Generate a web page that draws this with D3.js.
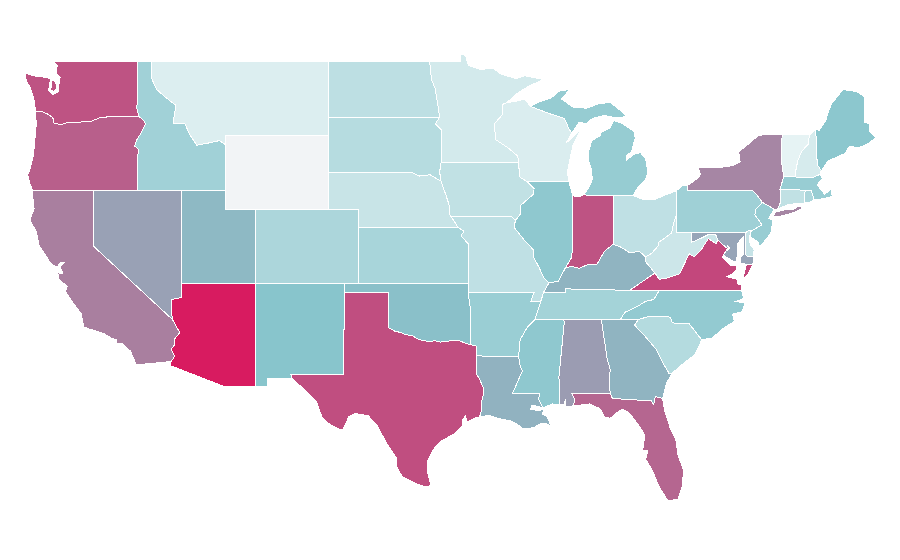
<!DOCTYPE html>
<html>
<head>
<meta charset="utf-8">
<script src="https://d3js.org/d3.v7.min.js"></script>
<style>
  body { margin: 0; background: #fff; }
  path.state { stroke: #fff; stroke-width: 1; shape-rendering: crispEdges; }
</style>
</head>
<body>
<div id="map"></div>
<script>
var svgWidth = 900;
var svgHeight = 560;

var stateNames = ["WA","OR","CA","NV","ID","MT","WY","UT","AZ","CO","NM","ND","SD","NE","KS","OK","TX","MN","IA","MO","AR","LA","WI","IL","IN","MI","OH","KY","TN","MS","AL","GA","FL","SC","NC","VA","WV","PA","NY","NJ","DE","MD","DC","CT","RI","MA","VT","NH","ME"];
var stateValues = [77,72,59,45,23,6.5,0,35,100,20,30,15,17,12,21,32,79,9,14,14.5,25,38,7,28,77,26,14.5,37,22,28,47,37,69,17.5,27,82,11,23.5,56,25.5,12.5,43,40,14,20,25.5,3.5,8,29];

var colorStops = [0, 3, 30, 100];
var colorRange = ["#f2f4f6", "#e8f4f5", "#88c5cc", "#d81b60"];

// state outlines as lon/lat rings
var outlines = {
  WA: [[[-124,46.27],[-124.07,46.7],[-124.1,46.9],[-124.2,47.2],[-124.4,47.6],[-124.65,47.95],[-124.73,48.38],[-124.2,48.2],[-123.6,48.15],[-123.12,48.08],[-122.95,48.05],[-123.1,47.4],[-122.8,47.2],[-122.45,47.3],[-122.35,47.9],[-122.3,48.1],[-122.55,48.35],[-122.5,48.75],[-122.76,49],[-117.03,49],[-117.04,46.42],[-116.92,46],[-118.98,46],[-119.3,45.93],[-119.6,45.92],[-120.2,45.72],[-120.65,45.74],[-121.2,45.65],[-121.7,45.7],[-122.25,45.55],[-122.75,45.65],[-122.8,45.95],[-123.2,46.15],[-123.5,46.25]],
       [[-122.85,47.95],[-122.95,47.45],[-122.75,47.35],[-122.55,47.5],[-122.6,47.9]]],
  OR: [[[-124,46.27],[-123.95,45.6],[-124.05,44.7],[-124.15,43.9],[-124.4,43.1],[-124.55,42.84],[-124.4,42.4],[-124.2,42],[-120,42],[-117.03,42],[-117.03,43.8],[-116.9,44.2],[-117.2,44.4],[-117.05,44.75],[-116.85,45],[-116.45,45.6],[-116.6,45.8],[-116.92,46],[-118.98,46],[-119.3,45.93],[-119.6,45.92],[-120.2,45.72],[-120.65,45.74],[-121.2,45.65],[-121.7,45.7],[-122.25,45.55],[-122.75,45.65],[-122.8,45.95],[-123.2,46.15],[-123.5,46.25]]],
  CA: [[[-124.2,42],[-124.2,41.7],[-124.1,41],[-124.4,40.4],[-123.95,39.8],[-123.75,39],[-123.3,38.5],[-122.95,38.05],[-122.5,37.85],[-122.3,38.1],[-122,38.1],[-122.3,37.85],[-122.1,37.5],[-122.45,37.55],[-122.4,37.2],[-122,36.95],[-121.8,36.8],[-121.95,36.55],[-121.4,35.9],[-120.85,35.35],[-120.65,34.6],[-120.2,34.47],[-119.3,34.25],[-118.8,34],[-118.4,33.9],[-118.4,33.72],[-118.1,33.72],[-117.5,33.3],[-117.25,32.85],[-117.12,32.53],[-114.72,32.72],[-114.5,33],[-114.72,33.4],[-114.53,33.6],[-114.5,33.95],[-114.14,34.3],[-114.43,34.7],[-114.63,35],[-120,39],[-120,42]]],
  NV: [[[-120,42],[-114.05,42],[-114.05,36.2],[-114.7,36.1],[-114.72,35.5],[-114.63,35],[-120,39]]],
  ID: [[[-117.03,49],[-116.05,49],[-116.05,48.05],[-115.7,47.45],[-115.05,47],[-114.4,46.6],[-114.6,45.65],[-113.8,45.6],[-113.45,45],[-113,44.45],[-112.3,44.55],[-111.45,44.7],[-111.05,44.47],[-111.05,42],[-114.05,42],[-117.03,42],[-117.03,43.8],[-116.9,44.2],[-117.2,44.4],[-117.05,44.75],[-116.85,45],[-116.45,45.6],[-116.6,45.8],[-116.92,46],[-117.04,46.42]]],
  MT: [[[-116.05,49],[-104.05,49],[-104.05,45],[-111.05,45],[-111.05,44.47],[-111.45,44.7],[-112.3,44.55],[-113,44.45],[-113.45,45],[-113.8,45.6],[-114.6,45.65],[-114.4,46.6],[-115.05,47],[-115.7,47.45],[-116.05,48.05]]],
  WY: [[[-111.05,45],[-104.05,45],[-104.05,41],[-111.05,41]]],
  UT: [[[-114.05,42],[-111.05,42],[-111.05,41],[-109.05,41],[-109.05,37],[-114.05,37]]],
  AZ: [[[-114.05,37],[-109.05,37],[-109.05,31.33],[-111.07,31.33],[-114.8,32.5],[-114.72,32.72],[-114.5,33],[-114.72,33.4],[-114.53,33.6],[-114.5,33.95],[-114.14,34.3],[-114.43,34.7],[-114.63,35],[-114.72,35.5],[-114.7,36.1],[-114.05,36.2]]],
  CO: [[[-109.05,41],[-102.05,41],[-102.05,37],[-109.05,37]]],
  NM: [[[-109.05,37],[-103,37],[-103,36.5],[-103.05,32],[-106.62,32],[-106.53,31.78],[-108.2,31.78],[-108.2,31.33],[-109.05,31.33]]],
  ND: [[[-104.05,49],[-97.23,49],[-97.1,48],[-96.85,47.5],[-96.6,46.3],[-96.56,45.94],[-104.05,45.94]]],
  SD: [[[-104.05,45.94],[-96.56,45.94],[-96.85,45.6],[-96.45,45.3],[-96.45,43.5],[-96.55,43],[-96.45,42.5],[-97.2,42.85],[-97.9,42.78],[-98.5,43],[-104.05,43]]],
  NE: [[[-104.05,43],[-98.5,43],[-97.9,42.78],[-97.2,42.85],[-96.45,42.5],[-96.1,41.7],[-95.9,41.2],[-95.85,40.7],[-95.3,40],[-102.05,40],[-102.05,41],[-104.05,41]]],
  KS: [[[-102.05,40],[-95.3,40],[-94.9,39.8],[-95.1,39.55],[-94.6,39.11],[-94.62,37],[-102.05,37]]],
  OK: [[[-103,37],[-94.62,37],[-94.62,36.5],[-94.43,35.4],[-94.48,33.64],[-94.9,33.75],[-95.3,33.88],[-95.8,33.85],[-96.5,33.78],[-96.9,33.85],[-97.2,33.8],[-97.9,33.9],[-98.4,34.12],[-98.9,34.2],[-99.2,34.3],[-99.6,34.38],[-100,34.56],[-100,36.5],[-103,36.5]]],
  TX: [[[-103,36.5],[-100,36.5],[-100,34.56],[-99.6,34.38],[-99.2,34.3],[-98.9,34.2],[-98.4,34.12],[-97.9,33.9],[-97.2,33.8],[-96.9,33.85],[-96.5,33.78],[-95.8,33.85],[-95.3,33.88],[-94.9,33.75],[-94.48,33.64],[-94.04,33.55],[-94.04,33.02],[-94.04,31.99],[-93.9,31.85],[-93.6,31.3],[-93.55,31],[-93.75,30.4],[-93.7,30.1],[-93.84,29.7],[-94.1,29.65],[-94.7,29.4],[-94.8,29.75],[-95,29.55],[-95,29.2],[-95.6,28.75],[-96.4,28.4],[-97,27.9],[-97.35,27.3],[-97.4,26.8],[-97.15,25.96],[-97.5,25.87],[-98.1,26.05],[-98.6,26.25],[-99.1,26.45],[-99.45,27],[-99.5,27.5],[-100.1,28.2],[-100.5,28.8],[-100.8,29.25],[-101.4,29.77],[-102.3,29.88],[-102.7,29.7],[-103.1,29],[-103.3,29],[-104,29.3],[-104.5,29.65],[-104.9,30.55],[-106,31.4],[-106.53,31.78],[-106.62,32],[-103.05,32]]],
  MN: [[[-97.23,49],[-95.15,49],[-95.15,49.38],[-94.8,49.3],[-94.6,48.75],[-93.8,48.55],[-92.9,48.6],[-92.4,48.3],[-91.4,48.05],[-90.8,48.2],[-89.5,48],[-90.5,47.65],[-91.3,47.25],[-92,46.75],[-92.3,46.65],[-92.3,46.1],[-92.85,45.6],[-92.75,44.75],[-91.9,44.3],[-91.25,43.85],[-91.22,43.5],[-96.45,43.5],[-96.45,45.3],[-96.85,45.6],[-96.56,45.94],[-96.6,46.3],[-96.85,47.5],[-97.1,48]]],
  IA: [[[-96.45,43.5],[-91.22,43.5],[-91.1,42.7],[-90.65,42.5],[-90.15,42.1],[-90.2,41.8],[-91.05,41.2],[-91.1,40.7],[-91.42,40.38],[-91.7,40.6],[-95.77,40.58],[-95.85,40.7],[-95.9,41.2],[-96.1,41.7],[-96.45,42.5],[-96.55,43]]],
  MO: [[[-95.77,40.58],[-91.7,40.6],[-91.42,40.38],[-91.5,40],[-90.75,39.25],[-90.2,38.8],[-90.2,38.4],[-89.85,37.9],[-89.5,37.3],[-89.15,37],[-89.5,36.5],[-89.7,36],[-90.37,36],[-90.15,36.5],[-94.62,36.5],[-94.62,37],[-94.6,39.11],[-95.1,39.55],[-94.9,39.8],[-95.3,40],[-95.85,40.7]]],
  AR: [[[-94.62,36.5],[-90.15,36.5],[-90.37,36],[-89.7,36],[-90.1,35],[-90.6,34.6],[-91.1,33.9],[-91.2,33],[-94.04,33.02],[-94.04,33.55],[-94.48,33.64],[-94.43,35.4]]],
  LA: [[[-94.04,33.02],[-91.2,33],[-91.1,32.5],[-90.95,32.2],[-91.6,31],[-89.75,31],[-89.85,30.65],[-89.55,30.2],[-90.3,30.35],[-90.4,30.1],[-89.9,30.05],[-89.45,30.1],[-89.6,29.85],[-89.3,29.75],[-89,29.2],[-89.4,29.35],[-89.8,29.3],[-90.2,29.1],[-90.9,29.05],[-91.3,29.3],[-91.8,29.5],[-92.3,29.55],[-93.2,29.78],[-93.84,29.7],[-93.7,30.1],[-93.75,30.4],[-93.55,31],[-93.6,31.3],[-93.9,31.85],[-94.04,31.99]]],
  WI: [[[-92.3,46.65],[-92,46.75],[-91.2,46.85],[-90.8,46.95],[-90.4,46.55],[-89.1,46.15],[-88.1,45.9],[-87.8,45.35],[-87.6,45.1],[-88,44.55],[-87.4,45],[-87,45.3],[-87.5,44.5],[-87.7,43.8],[-87.9,43],[-87.8,42.5],[-90.65,42.5],[-91.1,42.7],[-91.22,43.5],[-91.25,43.85],[-91.9,44.3],[-92.75,44.75],[-92.85,45.6],[-92.3,46.1]]],
  IL: [[[-90.65,42.5],[-87.8,42.5],[-87.6,41.9],[-87.53,41.72],[-87.53,39.3],[-87.6,38.4],[-88.05,37.8],[-88.5,37.1],[-89.15,37],[-89.5,37.3],[-89.85,37.9],[-90.2,38.4],[-90.2,38.8],[-90.75,39.25],[-91.5,40],[-91.42,40.38],[-91.1,40.7],[-91.05,41.2],[-90.2,41.8],[-90.15,42.1]]],
  IN: [[[-87.53,41.72],[-87.2,41.65],[-86.8,41.76],[-84.8,41.72],[-84.8,39.1],[-85.4,38.7],[-85.9,38],[-86.5,38],[-87.1,37.8],[-87.6,37.9],[-88.05,37.8],[-87.6,38.4],[-87.53,39.3]]],
  MI: [[[-90.4,46.55],[-89.8,46.8],[-89,47],[-88.4,47.4],[-87.75,47.45],[-88.3,46.95],[-87.5,46.5],[-86.6,46.45],[-85.8,46.68],[-85,46.77],[-84.5,46.45],[-84.1,46.2],[-83.9,45.98],[-84.7,45.95],[-85.4,46.05],[-86.2,45.9],[-86.6,45.6],[-87.1,45.7],[-87.6,45.1],[-87.8,45.35],[-88.1,45.9],[-89.1,46.15]],
       [[-86.8,41.76],[-86.5,42.1],[-86.2,42.6],[-86.3,43.2],[-86.5,43.7],[-86.5,44],[-86.25,44.7],[-85.7,44.95],[-85.6,45.15],[-85,45.4],[-84.75,45.78],[-84.2,45.63],[-83.4,45.2],[-83.3,44.85],[-83.55,44.1],[-83.9,43.9],[-83.9,43.65],[-83.4,43.95],[-82.95,44.05],[-82.6,43.7],[-82.45,43],[-82.6,42.6],[-83.1,42.2],[-83.45,41.73],[-84.8,41.72]]],
  OH: [[[-84.8,41.72],[-83.45,41.73],[-82.7,41.5],[-82,41.5],[-81.3,41.75],[-80.52,41.98],[-80.52,40.64],[-80.65,40.4],[-80.85,39.7],[-81.7,39.2],[-81.75,39],[-82.2,38.6],[-82.6,38.4],[-83,38.7],[-83.7,38.65],[-84.3,38.95],[-84.8,39.1]]],
  KY: [[[-89.5,36.5],[-89.15,37],[-88.5,37.1],[-88.05,37.8],[-87.6,37.9],[-87.1,37.8],[-86.5,38],[-85.9,38],[-85.4,38.7],[-84.8,39.1],[-84.3,38.95],[-83.7,38.65],[-83,38.7],[-82.6,38.4],[-82.6,38.15],[-81.97,37.54],[-83.68,36.6],[-88.05,36.68],[-88.05,36.5]]],
  TN: [[[-90.1,35],[-89.7,36],[-89.5,36.5],[-88.05,36.5],[-88.05,36.68],[-83.68,36.6],[-81.68,36.59],[-82.05,36.1],[-82.6,36],[-83.1,35.75],[-84,35.4],[-84.32,35]]],
  MS: [[[-90.1,35],[-88.2,35],[-88.1,34.9],[-88.47,31.9],[-88.4,30.35],[-88.9,30.4],[-89.55,30.2],[-89.85,30.65],[-89.75,31],[-91.6,31],[-90.95,32.2],[-91.1,32.5],[-91.2,33],[-91.1,33.9],[-90.6,34.6]]],
  AL: [[[-88.2,35],[-85.6,35],[-85.2,32.85],[-85,32.3],[-85.05,31.55],[-85,31],[-87.6,31],[-87.4,30.65],[-87.5,30.3],[-88,30.25],[-88,30.65],[-88.15,30.35],[-88.4,30.35],[-88.47,31.9],[-88.1,34.9]]],
  GA: [[[-85.6,35],[-84.32,35],[-83.1,35],[-83.35,34.7],[-82.75,34.2],[-81.9,33.4],[-81.4,32.6],[-81,32.05],[-80.85,32.03],[-81.2,31.5],[-81.45,30.7],[-81.95,30.8],[-82.05,30.36],[-82.2,30.57],[-84.85,30.7],[-85,31],[-85.05,31.55],[-85,32.3],[-85.2,32.85]]],
  FL: [[[-87.6,31],[-85,31],[-84.85,30.7],[-82.2,30.57],[-82.05,30.36],[-81.95,30.8],[-81.45,30.7],[-81.3,30],[-80.9,29],[-80.55,28.45],[-80.4,27.6],[-80.03,26.8],[-80.12,25.9],[-80.4,25.2],[-81.1,25.13],[-81.7,25.9],[-82.1,26.7],[-82.6,27.4],[-82.45,27.85],[-82.8,27.85],[-82.65,28.7],[-83,29.15],[-83.7,29.9],[-84.1,30.1],[-84.35,30.05],[-85,29.62],[-85.35,29.67],[-85.7,30.15],[-86.4,30.4],[-87.5,30.3],[-87.4,30.65]]],
  SC: [[[-83.1,35],[-82.3,35.2],[-81.05,35.15],[-80.9,35.1],[-80.8,34.82],[-79.67,34.8],[-78.8,33.9],[-79.25,33.1],[-79.9,32.7],[-80.5,32.3],[-80.85,32.03],[-81,32.05],[-81.4,32.6],[-81.9,33.4],[-82.75,34.2],[-83.35,34.7]]],
  NC: [[[-84.32,35],[-84,35.4],[-83.1,35.75],[-82.6,36],[-82.05,36.1],[-81.68,36.59],[-76.1,36.58],[-75.95,36.15],[-76.5,36],[-75.85,35.9],[-76.07,35.43],[-76.7,35.3],[-76.6,34.9],[-77.3,34.55],[-78.1,34],[-78.8,33.9],[-79.67,34.8],[-80.8,34.82],[-80.9,35.1],[-81.05,35.15],[-82.3,35.2],[-83.1,35]]],
  VA: [[[-83.68,36.6],[-81.97,37.54],[-81.68,37.2],[-81.2,37.25],[-80.3,37.5],[-79.65,38.58],[-79.3,38.42],[-78.87,38.76],[-78.35,39.4],[-77.83,39.13],[-77.72,39.32],[-77.05,38.85],[-77.4,38.42],[-76.83,37.95],[-76.5,37.95],[-76.4,37.75],[-76.7,37.5],[-77.08,37.34],[-76.4,37.2],[-76.35,36.95],[-76.1,36.9],[-76.1,36.58],[-81.68,36.59]],
       [[-76.05,37.15],[-75.78,38],[-75.33,38.03],[-75.65,37.5]]],
  WV: [[[-80.52,40.64],[-80.52,39.72],[-79.48,39.72],[-79.48,39.2],[-78.9,39.4],[-78.4,39.6],[-77.85,39.6],[-77.72,39.32],[-77.83,39.13],[-78.35,39.4],[-78.87,38.76],[-79.3,38.42],[-79.65,38.58],[-80.3,37.5],[-81.2,37.25],[-81.68,37.2],[-81.97,37.54],[-82.6,38.15],[-82.6,38.4],[-82.2,38.6],[-81.75,39],[-81.7,39.2],[-80.85,39.7],[-80.65,40.4]]],
  PA: [[[-80.52,41.98],[-80.1,42.27],[-79.76,42.27],[-79.76,42],[-75.35,42],[-75.05,41.75],[-74.7,41.36],[-75.13,40.98],[-75.2,40.68],[-74.72,40.15],[-75.45,39.8],[-75.6,39.83],[-75.85,39.72],[-80.52,39.72]]],
  NY: [[[-79.76,42.27],[-79,42.7],[-78.9,42.9],[-79.05,43.27],[-77.5,43.25],[-76.7,43.35],[-76.2,43.55],[-76.3,44.1],[-75.8,44.4],[-75,44.95],[-74.7,45],[-73.35,45.01],[-73.4,44.5],[-73.4,43.6],[-73.25,42.75],[-73.5,42.05],[-73.5,41.3],[-73.65,41],[-73.9,41],[-74.7,41.36],[-75.05,41.75],[-75.35,42],[-79.76,42]],
       [[-74.03,40.6],[-73.75,40.85],[-73.2,40.95],[-72.6,40.97],[-72.3,41.15],[-71.9,41.07],[-72.5,40.82],[-73.5,40.6]]],
  NJ: [[[-74.7,41.36],[-73.9,41],[-74.25,40.5],[-73.98,40.4],[-74.1,39.75],[-74.4,39.4],[-74.9,38.93],[-74.95,39.2],[-75.5,39.5],[-75.55,39.65],[-75.45,39.8],[-74.72,40.15],[-75.2,40.68],[-75.13,40.98]]],
  DE: [[[-75.85,39.72],[-75.6,39.83],[-75.45,39.8],[-75.6,39.45],[-75.5,39.05],[-75.25,38.8],[-75.3,38.45],[-75.8,38.46]]],
  MD: [[[-79.48,39.72],[-75.85,39.72],[-75.8,38.46],[-75.3,38.45],[-75.33,38.03],[-75.78,38],[-76.2,38.1],[-76.2,38.4],[-75.95,38.55],[-75.95,39.05],[-76,39.5],[-76.35,39.15],[-76.35,38.6],[-76.45,38.3],[-76.5,38.1],[-77.35,38.5],[-77.05,38.85],[-77.72,39.32],[-77.85,39.6],[-78.4,39.6],[-78.9,39.4],[-79.48,39.2]]],
  DC: [[[-77.12,38.93],[-77.04,39],[-76.91,38.89],[-77.04,38.79]]],
  CT: [[[-73.5,42.05],[-71.8,42.02],[-71.85,41.32],[-72.9,41.25],[-73.65,41],[-73.5,41.3]]],
  RI: [[[-71.8,42.02],[-71.38,42.02],[-71.2,41.5],[-71.5,41.37],[-71.85,41.32]]],
  MA: [[[-73.5,42.05],[-73.25,42.75],[-72.46,42.73],[-71.3,42.7],[-70.8,42.87],[-70.6,42.65],[-71,42.3],[-70.6,41.95],[-70.5,41.8],[-70.05,42.05],[-69.95,41.68],[-70.6,41.55],[-71.2,41.5],[-71.38,42.02],[-71.8,42.02]]],
  VT: [[[-73.35,45.01],[-71.5,45.01],[-71.6,44.5],[-72.05,44.1],[-72.3,43.6],[-72.45,43],[-72.46,42.73],[-73.25,42.75],[-73.4,43.6],[-73.4,44.5]]],
  NH: [[[-71.5,45.01],[-71.08,45.3],[-70.98,43.4],[-70.7,43.07],[-70.8,42.87],[-71.3,42.7],[-72.46,42.73],[-72.45,43],[-72.3,43.6],[-72.05,44.1],[-71.6,44.5]]],
  ME: [[[-71.08,45.3],[-70.85,45.25],[-70.4,45.8],[-70.25,46.2],[-70,46.7],[-69.23,47.46],[-69,47.43],[-68.3,47.35],[-67.8,47.07],[-67.8,45.7],[-67.45,45.6],[-67.45,45.2],[-67,44.85],[-67.6,44.5],[-68.2,44.3],[-68.8,44.4],[-69.1,44],[-69.8,43.75],[-70.25,43.6],[-70.7,43.07],[-70.98,43.4]]]
};

var svg = d3
  .select("#map")
  .append("svg")
  .attr("height", svgHeight)
  .attr("width", svgWidth);

var xLon = d3.scaleLinear().domain([-124.73, -120, -67]).range([25, 93.3, 876]);
var yLat = d3.scaleLinear().domain([49, 37, 25]).range([61, 283, 503]);

var colorScale = d3.scaleLinear().domain(colorStops).range(colorRange);

// plate carree with separate x and y stretch
var projection = d3.geoTransform({
  point: function (lon, lat) {
    this.stream.point(xLon(lon), yLat(lat));
  }
});
var path = d3.geoPath(projection);

var features = stateNames.map(function (name, i) {
  return {
    type: "Feature",
    properties: { name: name, value: stateValues[i] },
    geometry: {
      type: "MultiPolygon",
      coordinates: outlines[name].map(function (ring) {
        return [ring.concat([ring[0]])];
      })
    }
  };
});

svg.append("g")
  .selectAll("path")
  .data(features)
  .enter()
  .append("path")
  .attr("class", "state")
  .attr("d", path)
  .attr("fill", d => colorScale(d.properties.value));
</script>
</body>
</html>
